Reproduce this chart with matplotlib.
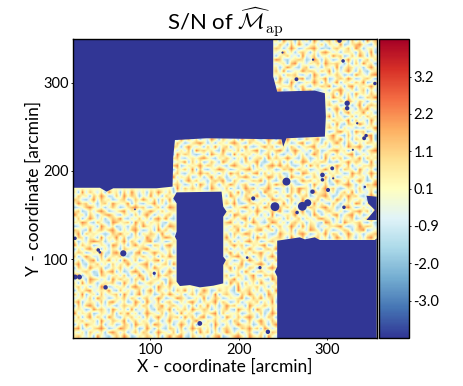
import matplotlib
matplotlib.use("Agg")
import matplotlib.pyplot as plt
import numpy as np
from matplotlib.patches import Circle, Polygon

plt.rcParams["font.family"] = ["Lato", "DejaVu Sans"]
plt.rcParams["mathtext.fontset"] = "cm"

x_range = [13, 356]
y_range = [11, 349]
x_ticks = [100, 200, 300]
y_ticks = [100, 200, 300]
value_range = [-4.0, 4.2]
cbar_tick_labels = ["-3.0", "-2.0", "-0.9", "0.1", "1.1", "2.2", "3.2"]
mask_color = "#313695"

# S/N level for each symbol of the rows below, '.' lies under the mask
level_values = [-3.4, -2.8, -2.2, -1.7, -0.9, 0.1, 0.7, 1.4, 2.2, 3.2]

# texture, top row first, about 4.3 arcmin per cell
sn_rows = [
    "." * 53 + "638563746385367485637463857",
    "." * 53 + "475374853564736548346785436",
    "." * 53 + "763586346785343675574863564",
    "." * 53 + "548463675364786453665375483",
    "." * 53 + "365745384573554867347486375",
    "." * 53 + "874356763486375346584635746",
    "." * 53 + "456378454657486675363748563",
    "." * 53 + "635864367345365483576453685",
    "." * 53 + "748345586764758364685374356",
    "." * 53 + "563767435386346575343865478",
    "." * 53 + "385456783475683467586346753",
    "." * 53 + "674385346586374583654758346",
    "." * 53 + "456673574365768346378465685",
    "." * 53 + "783465386743453678546357364",
    "." * 67 + "5738463856475",
    "." * 67 + "4865374634768",
    "." * 67 + "6347586475354",
    "." * 67 + "7563463583676",
    "." * 67 + "3685745376845",
    "." * 67 + "5473684658463",
    "." * 67 + "8365347364756",
    "." * 67 + "4756583745385",
    "." * 67 + "6384376586474",
    "." * 67 + "7563645343658",
    "." * 67 + "3478563867345",
    "." * 67 + "6854374546783",
    "." * 26 + "638574635486375463856743586374856347568346758463756483",
    "." * 26 + "475346786353654786437565374685634783465374685375364765",
    "." * 26 + "763685453748467356584346857346475356784653546486785346",
    "." * 26 + "546473867564385647365783465785368645367346785635463578",
    "." * 26 + "385764345386574384756454673643547463586475364578346465",
    "." * 26 + "674356578643657536483567385756864375346384757346583756",
    "." * 26 + "456837463475386465375684346473536587465763435685764384",
    "." * 26 + "783465685764543786546373578685743463857346586473546675",
    "." * 26 + "365748374356875345678456465347685756345685473765385463",
    "." * 26 + "574356586745364867354783746563464387564736565348674586",
    "." * 26 + "846573463584753546786345587475386653475384734657456374",
    "." * 26 + "463685745367684375345768364356743586746563586473685347",
    "." * 26 + "675346386475365864674353475867564345385474365786354768",
    "." * 26 + "384757564386547353586746685345375876463685743465473565",
    "638475463856374854637586473" + "." * 13 + "5748367453865746375846385674635748365473",
    "475637586347485763548463756" + "." * 13 + "3865475684376354863567346785347586743586",
    "764358475634673475864737483" + "." * 13 + "6473568345648765375484657356486375465374",
    "586745367486558364356846365" + "." * 13 + "7584346756373548463676384643753564873685",
    "345786453575346786743573587" + "." * 13 + "4365785374865375746345765785634785346456",
    "673464786345784653568647456" + "." * 13 + "5746346586457684367583473467546346785738",
    "856375357864365374685354674" + "." * 13 + "6387565473638345658465386354783578463465",
    "473586463576843647463785843" + "." * 13 + "3564783745476563745736547865364657345786",
    "658743754387567385746564365" + "." * 13 + "7845365864358746367563654387453865674353",
    "346565386463453674865473587" + "." * 13 + "5476573465683574586384763546678434586764",
    "764384675785364785346385746" + "." * 13 + "4658346578457365473654875375345763678345",
    "583756543476856373657648453" + "." * 13 + "6375687453643486564786346584763586453567",
    "476365384658473465486536875" + "." * 13 + "8463546386745675385473567463586475364785",
    "635478763546584753578345346" + "." * 13 + "57364785634675" + "." * 26,
    "847563465387463685643764785" + "." * 13 + "46857346578346" + "." * 26,
    "364785736465376546785453564" + "." * 13 + "73546585436758" + "." * 26,
    "576346584378564378346865473" + "." * 13 + "58463747685463" + "." * 26,
    "735864473565743565754637586" + "." * 13 + "36785463574685" + "." * 26,
    "463578365846386473465783645" + "." * 13 + "65347586463547" + "." * 26,
    "684365746374658546783546738" + "." * 13 + "74658345786364" + "." * 26,
    "375486573465745364574865463" + "." * 13 + "58376476354786" + "." * 26,
    "546753485783634786356473586" + "." * 13 + "46563853675453" + "." * 26,
    "783564376456473548647385764" + "." * 13 + "73475468437675" + "." * 26,
    "465387645385756375835664375" + "." * 13 + "56846357564386" + "." * 26,
    "638475356674385463467547386" + "." * 13 + "38573746385547" + "." * 26,
    "574635487346563786545386574" + "." * 13 + "65384565746365" + "." * 26,
    "365784565843746457368475463758463586347564385674635748" + "." * 26,
    "748356374567385368456347586463574765483675437586463865" + "." * 26,
    "456473865346574753674586345875346483576346568347584674" + "." * 26,
    "683565473785463486385473674364785365684753473565736483" + "." * 26,
    "374786354643576574763568467546363748463586745386457565" + "." * 26,
    "565348675386463835474376583657486576354674386573864374" + "." * 26,
    "846573465473758463586547365384653465783745563465473586" + "." * 26,
    "473684753864365746374685476738574783465386475786354763" + "." * 26,
    "657456385476583574653463584465368546574653763474685475" + "." * 26,
    "364865473563476386574875463586473465385364586563476368" + "." * 26,
    "783546786345875463485364376473586746473675347685738645" + "." * 26,
    "546375463786463574763586547365463857364586463574365476" + "." * 26,
    "675463854357586346576473685784375463578345786486573854" + "." * 26,
]

# outlines of the empty areas, arcmin
top_left_x = [13, 239, 239, 243.5, 286, 297.4, 298.5, 297.4, 254, 250.3, 248.4, 163.7, 127.9, 126, 125.2, 107, 58.2, 50.7, 43.1, 13]
top_left_y = [349, 349, 306.8, 289.8, 291, 288, 261.5, 238.9, 237, 227.5, 235.8, 237, 235, 216, 182.3, 180.4, 180.4, 176.6, 181, 181]
centre_x = [129.8, 180.6, 182.5, 186.3, 182.5, 182.5, 185.5, 182.5, 182.5, 171.2, 156.1, 144.8, 133.5, 129.8, 129.8, 127.9, 129.8, 129.8, 126]
centre_y = [175.8, 176.6, 159.6, 154, 148.3, 103, 99.2, 93.6, 72.8, 70.2, 68.3, 70.9, 69.8, 74.7, 121.9, 125.7, 131.3, 163.4, 169]
bottom_right_x = [243.5, 243.5, 240.9, 243.5, 243.5, 269.1, 274.8, 286, 291.7, 353.9, 356, 356]
bottom_right_y = [11, 80.4, 86, 91.7, 121.1, 124.9, 122.6, 124.9, 121.9, 121.9, 123.8, 11]
notch_x = [356, 344.4, 346.3, 353.9, 344.4, 356]
notch_y = [170.9, 172, 163.4, 155.8, 144.5, 144.5]
empty_areas = [(top_left_x, top_left_y), (centre_x, centre_y), (bottom_right_x, bottom_right_y), (notch_x, notch_y)]

hole_x = [15, 20, 69.5, 41.2, 43, 49.5, 104.5, 82.7, 254, 241, 272, 266, 278, 283.4, 301, 294.7, 294.7, 305.7, 322.6, 322.6, 341.8, 344, 265.3, 318, 216.4, 319, 156, 233, 224, 314, 354, 14.9, 209.6, 342.6, 329, 334, 306.8, 284, 249.5]
hole_y = [80, 80, 106.8, 110.6, 108, 68.3, 84.2, 156.6, 188, 159.6, 160, 153, 164, 176.6, 178.5, 195.5, 190, 203, 276.6, 271, 237, 240, 303.8, 324.5, 169, 158.9, 27.5, 18, 90.6, 347.5, 299, 123.8, 102, 182, 224, 254, 191.7, 326, 334]
hole_r = [2.8, 2.8, 3.5, 2, 1.5, 2.5, 1.8, 1, 4.5, 5, 5, 2, 4, 2.5, 2.3, 2.6, 2, 2.2, 3, 2.5, 2.2, 2, 2.2, 2, 2.3, 2, 2.7, 2.5, 1.9, 2.5, 2, 2, 1.5, 1.4, 1.2, 1.3, 1.2, 1.3, 1.2]

sn_grid = np.array(
    [[level_values[int(c)] if c != "." else 0.1 for c in row.ljust(80, ".")[:80]] for row in sn_rows]
)

fig = plt.figure(figsize=(4.63, 3.86), dpi=100)
ax = fig.add_axes([73.3 / 463, 48 / 386, 303.4 / 463, 298.7 / 386])
im = ax.imshow(
    sn_grid,
    cmap="RdYlBu_r",
    vmin=value_range[0],
    vmax=value_range[1],
    extent=[x_range[0], x_range[1], y_range[0], y_range[1]],
    interpolation="bilinear",
    interpolation_stage="data",
    aspect="auto",
)
for area_x, area_y in empty_areas:
    ax.add_patch(Polygon(np.column_stack([area_x, area_y]), closed=True, fc=mask_color, ec="none", zorder=2))
for hx, hy, hr in zip(hole_x, hole_y, hole_r):
    ax.add_patch(Circle((hx, hy), hr, fc=mask_color, ec="none", zorder=2))

ax.set_xlim(x_range)
ax.set_ylim(y_range)
ax.set_xticks(x_ticks)
ax.set_yticks(y_ticks)
ax.tick_params(labelsize=10.5, length=1.5, width=0.6, pad=2)
ax.set_xlabel("X - coordinate [arcmin]", fontsize=12.5, labelpad=1)
ax.set_ylabel("Y - coordinate [arcmin]", fontsize=12.5, labelpad=1)
ax.set_title(r"S/N of $\widehat{\mathcal{M}}_{\mathrm{ap}}$", fontsize=16, pad=4)
for spine in ax.spines.values():
    spine.set_linewidth(1.0)

cax = fig.add_axes([378.7 / 463, 48 / 386, 30 / 463, 298.7 / 386])
cbar = fig.colorbar(im, cax=cax)
cbar.set_ticks(np.linspace(value_range[0], value_range[1], 9)[1:-1])
cbar.set_ticklabels(cbar_tick_labels)
cbar.ax.tick_params(labelsize=10.5, length=1.5, width=0.6, pad=2)
cbar.outline.set_linewidth(1.0)

fig.savefig("out.png", dpi=100)
